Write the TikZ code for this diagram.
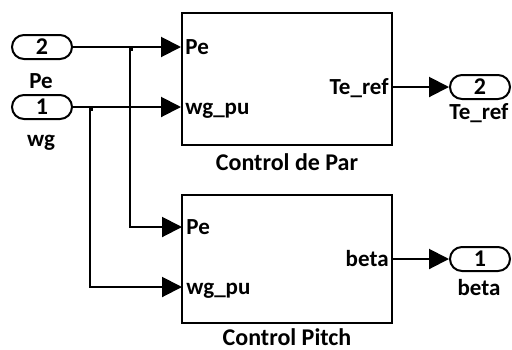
\documentclass[tikz,border=0pt]{standalone}
\usepackage{fontspec}
\setmainfont{Carlito}
\usetikzlibrary{arrows.meta}
\begin{document}
\begin{tikzpicture}[x=0.5pt, y=-0.5pt]
    % 定义样式
    \tikzstyle{block}=[draw, line width=1pt, minimum width=105pt, inner sep=0pt]
    \tikzstyle{port}=[draw, line width=1pt, rounded corners=6pt, minimum width=30pt, minimum height=12pt, inner sep=0pt, font=\bfseries\fontsize{12}{13}\selectfont]
    \tikzstyle{portlabel}=[inner sep=2pt, text height=9pt, text depth=2pt, font=\bfseries\fontsize{11.5}{12}\selectfont]
    \tikzstyle{title}=[inner sep=0pt, font=\bfseries\fontsize{12}{14}\selectfont]
    \tikzstyle{signal}=[line width=1pt, -{Triangle[length=10pt, width=10pt]}]
    \tikzstyle{junction}=[fill=black]

    \useasboundingbox (0,0) rectangle (512,349);

    % 1. 两个子系统方块
    \node[block, minimum height=66pt] (par) at (287,79) {};
    \node[block, minimum height=64pt] (pitch) at (287,259) {};
    \node[title, anchor=base] (partitle) at (287,170) {Control de Par};
    \node[title, anchor=base] (pitchtitle) at (287,345) {Control Pitch};

    % 2. 输入端口和输出端口
    \node[port] (pein) at (42,47) {2};
    \node[port] (wgin) at (42,107) {1};
    \node[port] (teout) at (480,87) {2};
    \node[port] (betaout) at (480,259) {1};
    \node[title, anchor=base, font=\bfseries\fontsize{11.5}{12}\selectfont] at (41,88) {Pe};
    \node[title, anchor=base, font=\bfseries\fontsize{11.5}{12}\selectfont] at (41,146) {wg};
    \node[title, anchor=base, font=\bfseries\fontsize{11.5}{12}\selectfont] at (479,119) {Te\_ref};
    \node[title, anchor=base, font=\bfseries\fontsize{11.5}{12}\selectfont] at (479,295) {beta};

    % 3. 方块上的端口位置
    \coordinate (par-pe) at (par.west |- pein);
    \coordinate (par-wg) at (par.west |- wgin);
    \coordinate (par-te) at (par.east |- teout);
    \coordinate (pit-pe) at (182,227);
    \coordinate (pit-wg) at (182,287);
    \coordinate (pit-beta) at (pitch.east |- betaout);

    \node[portlabel, anchor=west] at (par-pe) {Pe};
    \node[portlabel, anchor=west] at (par-wg) {wg\_pu};
    \node[portlabel, anchor=east] at (par-te) {Te\_ref};
    \node[portlabel, anchor=west] at (pit-pe) {Pe};
    \node[portlabel, anchor=west] at (pit-wg) {wg\_pu};
    \node[portlabel, anchor=east] at (pit-beta) {beta};

    % 4. 信号线
    \coordinate (pebr) at (130,47);
    \coordinate (wgbr) at (90,107);
    \draw[signal] (pein) -- (par-pe);
    \draw[signal] (wgin) -- (par-wg);
    \draw[signal] (pebr) |- (pit-pe);
    \draw[signal] (wgbr) |- (pit-wg);
    \draw[signal] (par-te) -- (teout);
    \draw[signal] (pit-beta) -- (betaout);

    % 分支点
    \fill[junction] ([shift={(-1,0)}]pebr) rectangle ([shift={(3,4)}]pebr);
    \fill[junction] ([shift={(-1,0)}]wgbr) rectangle ([shift={(3,4)}]wgbr);

\end{tikzpicture}
\end{document}
